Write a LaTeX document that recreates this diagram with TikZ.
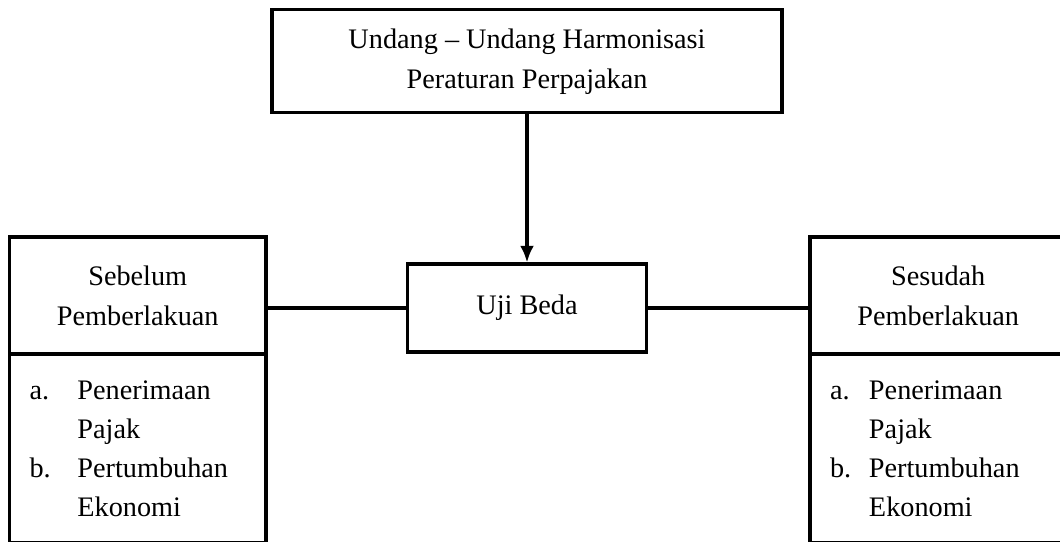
\documentclass[tikz,border=0pt]{standalone}
\usepackage{fontspec}
\setmainfont{Liberation Serif}
\usetikzlibrary{arrows.meta}
\newcommand{\unitpx}{0.4566pt}

\begin{document}
\begin{tikzpicture}[x=\unitpx, y=-\unitpx, line width=1.45pt,
	kotak/.style={draw, line width=1.45pt, inner sep=0pt, align=center, font=\fontsize{12.9}{18.2}\selectfont},
	isi/.style={kotak, minimum width={256.5*\unitpx}, minimum height={189*\unitpx}, text width={216.5*\unitpx}, align=left, font=\fontsize{12.9}{17.8}\selectfont}]
		\useasboundingbox (0,0) rectangle (1060,542);
		\draw (527,61.3) node[kotak, minimum width={510*\unitpx}, minimum height={103*\unitpx}] (uu) {Undang -- Undang Harmonisasi\\Peraturan Perpajakan}
		(527,308) node[kotak, minimum width={239*\unitpx}, minimum height={88*\unitpx}] (uji) {Uji Beda}
		(137.75,295.5) node[kotak, minimum width={256.5*\unitpx}, minimum height={117*\unitpx}] (sebelum) {Sebelum\\Pemberlakuan}
		(137.75,448.5) node[isi] (sebelumisi) {\makebox[21.9pt][l]{a.}Penerimaan\\\hspace*{21.9pt}Pajak\\\makebox[21.9pt][l]{b.}Pertumbuhan\\\hspace*{21.9pt}Ekonomi}
		(938.25,295.5) node[kotak, minimum width={256.5*\unitpx}, minimum height={117*\unitpx}] (sesudah) {Sesudah\\Pemberlakuan}
		(938.25,448.5) node[isi] (sesudahisi) {\makebox[17.8pt][l]{a.}Penerimaan\\\hspace*{17.8pt}Pajak\\\makebox[17.8pt][l]{b.}Pertumbuhan\\\hspace*{17.8pt}Ekonomi};

		\draw[-{Latex[length=7.6pt,width=6.4pt]}] (uu.south) -- (uji.north);
		\draw (sebelum.east |- uji.west) -- (uji.west);
		\draw (uji.east) -- (sesudah.west |- uji.east);
	\end{tikzpicture}
\end{document}
